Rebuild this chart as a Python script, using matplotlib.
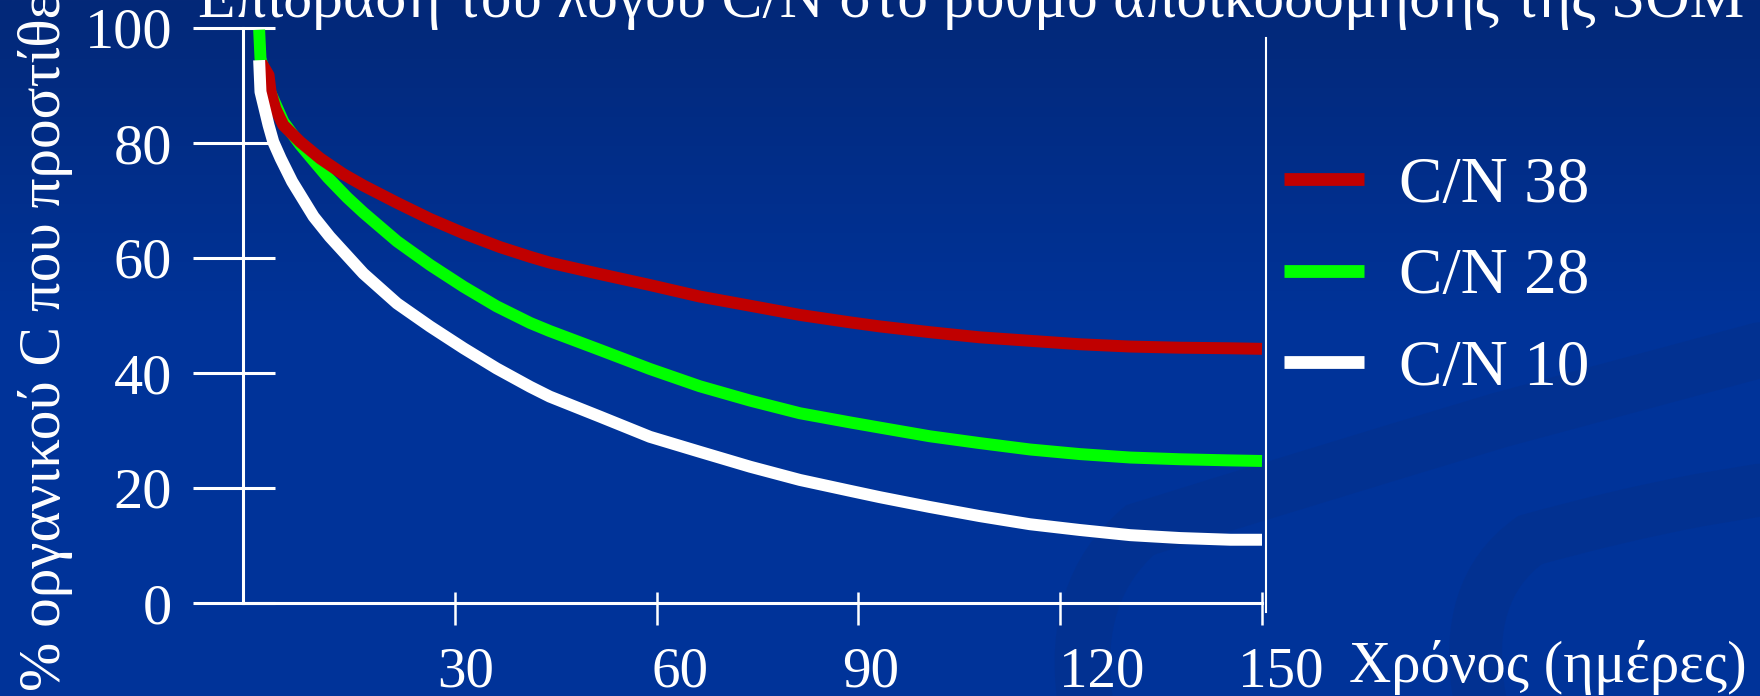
import numpy as np
import matplotlib
matplotlib.use("Agg")
import matplotlib.pyplot as plt
import matplotlib.transforms as mtransforms
from matplotlib.lines import Line2D
from matplotlib.path import Path
from matplotlib.patches import PathPatch

# ---------------- data ----------------
title = "Επίδραση του λόγου C/N στο ρυθμό αποικοδόμησης της SOM"
xlabel = "Χρόνος (ημέρες)"
ylabel = "% οργανικού C που προστίθεται"
series_labels = ["C/N 38", "C/N 28", "C/N 10"]
xticks = [30, 60, 90, 120, 150]
yticks = [0, 20, 40, 60, 80, 100]

days_cn38 = [1.2, 2.3, 2.6, 3.3, 4.5, 7.0, 10.0, 13.4, 16.4, 21.4, 26.3, 31.3, 36.7, 41.2, 44.1,
             51.6, 59.0, 66.4, 73.9, 81.3, 88.8, 93.2, 100.6, 108.1, 115.5, 122.9, 130.4, 137.8, 145.3, 150]
pct_cn38 = [94.0, 91.8, 88.9, 86.0, 83.1, 80.2, 77.3, 74.6, 72.6, 69.6, 66.8, 64.3, 61.9, 60.2, 59.2,
            57.2, 55.3, 53.3, 51.7, 50.1, 48.8, 48.1, 47.1, 46.2, 45.6, 45.0, 44.6, 44.4, 44.3, 44.2]

days_cn28 = [0.9, 1.1, 2.4, 4.5, 7.0, 8.5, 11.1, 14.0, 16.4, 21.4, 26.3, 31.3, 36.2, 41.2, 44.1,
             51.6, 59.0, 66.4, 73.9, 81.3, 88.8, 93.2, 100.6, 108.1, 115.5, 122.9, 130.4, 137.8, 145.3, 150]
pct_cn28 = [99.7, 94.7, 89.2, 83.7, 79.7, 77.6, 74.0, 70.5, 67.9, 62.9, 58.8, 55.0, 51.6, 48.7, 47.3,
            44.0, 40.7, 37.7, 35.2, 33.0, 31.4, 30.5, 29.0, 27.8, 26.7, 25.9, 25.3, 25.0, 24.8, 24.7]

days_cn10 = [0.9, 1.1, 2.3, 3.0, 4.1, 5.8, 9.0, 11.4, 16.4, 21.4, 26.3, 31.3, 36.2, 41.2, 44.1,
             51.6, 59.0, 66.4, 73.9, 81.3, 88.8, 93.2, 100.6, 108.1, 115.5, 122.9, 130.4, 137.8, 145.3, 150]
pct_cn10 = [94.4, 88.9, 83.1, 80.2, 77.3, 73.3, 67.2, 63.7, 57.3, 52.1, 48.1, 44.3, 40.8, 37.6, 35.9,
            32.4, 28.9, 26.3, 23.7, 21.4, 19.5, 18.4, 16.7, 15.1, 13.7, 12.7, 11.8, 11.3, 11.0, 11.0]

series_colors = ["#C00000", "#00FF00", "#FFFFFF"]

# ---------------- figure ----------------
plt.rcParams["font.family"] = ["Liberation Serif", "DejaVu Serif"]
W, H = 1760, 696
fig = plt.figure(figsize=(W / 100, H / 100), dpi=100)
renderer = fig.canvas.get_renderer()


def px(x, y):
    """pixel (from top-left) -> figure fraction"""
    return x / W, 1 - y / H


# background gradient + faint swooshes
bg = fig.add_axes([0, 0, 1, 1])
bg.set_zorder(0)
top = np.array([3, 40, 120]) / 255
mid = np.array([0, 51, 153]) / 255
t = np.clip(np.arange(H) / 320.0, 0, 1)[:, None]
grad = (top * (1 - t) + mid * t)[:, None, :]
bg.imshow(grad, aspect="auto", extent=(0, W, H, 0))
bg.set_xlim(0, W)
bg.set_ylim(H, 0)
bg.axis("off")
swoosh_col = (0.02, 0.19, 0.54)
for verts, wid in [
    ([(1085, 700), (1070, 590), (1140, 530), (1300, 480), (1500, 420), (1760, 350)], 40),
    ([(1480, 700), (1460, 590), (1530, 540), (1620, 515), (1700, 500), (1760, 490)], 38),
]:
    codes = [Path.MOVETO] + [Path.CURVE3] * 4 + [Path.LINETO]
    bg.add_patch(PathPatch(Path(verts, codes), fill=False, lw=wid, edgecolor=swoosh_col,
                           alpha=0.5, capstyle="round"))

# main axes
ax_left, ax_right = 243, 1262
ax_top, ax_bottom = 28, 603
ax = fig.add_axes([ax_left / W, 1 - ax_bottom / H, (ax_right - ax_left) / W, (ax_bottom - ax_top) / H])
ax.set_zorder(1)
ax.patch.set_alpha(0)
ax.set_xlim(-1.5, 150)
ax.set_ylim(0, 100)

lw = 8.6
for d, v, c, lab, z in zip([days_cn38, days_cn28, days_cn10],
                           [pct_cn38, pct_cn28, pct_cn10],
                           series_colors, series_labels, [4, 3, 5]):
    ax.plot(d, v, color=c, lw=lw, solid_capstyle="butt", solid_joinstyle="round",
            clip_on=False, zorder=z, label=lab)

for s in ["top", "right"]:
    ax.spines[s].set_visible(False)
for s in ["left", "bottom"]:
    ax.spines[s].set_color("white")
    ax.spines[s].set_linewidth(2.2)

ax.set_xticks(xticks)
ax.set_xticklabels([str(v) for v in xticks])
ax.set_xticks(xticks, minor=True)
ax.set_yticks(yticks)
ax.set_yticklabels([str(v) for v in yticks])
ax.set_yticks(yticks, minor=True)
ax.xaxis.remove_overlapping_locs = False
ax.yaxis.remove_overlapping_locs = False
ax.tick_params(axis="x", which="major", direction="out", length=15.8, width=1.8, color="white",
               pad=15.7, labelsize=41, labelcolor="white")
ax.tick_params(axis="x", which="minor", direction="in", length=7.9, width=1.8, color="white")
ax.tick_params(axis="y", which="major", direction="out", length=36, width=2.2, color="white",
               pad=15, labelsize=42, labelcolor="white")
ax.tick_params(axis="y", which="minor", direction="in", length=23, width=2.2, color="white")

# x tick labels sit a little right of their ticks in the reference
shifts_px = [11, 23, 12, 41, 19]
for lbl, sh in zip(ax.get_xticklabels(), shifts_px):
    lbl.set_transform(lbl.get_transform() + mtransforms.ScaledTranslation(sh / 100, 0, fig.dpi_scale_trans))


def fit_width(txt, target):
    fs = txt.get_fontsize()
    for _ in range(4):
        w = txt.get_window_extent(renderer).width
        fs *= target / w
        txt.set_fontsize(fs)


axw = ax_right - ax_left
axh = ax_bottom - ax_top

# title (runs off the top edge, as in the reference)
ttl = ax.set_title(title, fontsize=50, color="white", y=(ax_bottom - 17) / axh, pad=0)
ttl.set_x((198 - ax_left) / axw)
ttl.set_ha("left")
ttl.set_va("baseline")
fit_width(ttl, 1547)

# x label
xl = ax.set_xlabel(xlabel, fontsize=48, color="white")
ax.xaxis.set_label_coords((1349 - ax_left) / axw, (ax_bottom - 682) / axh)
xl.set_ha("left")
xl.set_va("baseline")
fit_width(xl, 398)

# y label (runs off the top edge, as in the reference)
probe = fig.text(0, 0, "% οργανικού ", fontsize=45)
fit_width(probe, 325)
yfs = probe.get_fontsize()
probe.remove()
yl = ax.set_ylabel(ylabel, fontsize=yfs, color="white", rotation=90)
ax.yaxis.set_label_coords((60 - ax_left) / axw, (ax_bottom - 691) / axh)
yl.set_ha("left")
yl.set_va("baseline")
yl.set_rotation_mode("anchor")

# right boundary line
fig.add_artist(Line2D([1266 / W, 1266 / W], [1 - 38 / H, 1 - 612 / H], color="white", lw=1.5))

# legend
handles = [Line2D([], [], color=c, lw=9.2, solid_capstyle="butt") for c in series_colors]
fs_leg = 47
leg = ax.legend(handles, series_labels, loc="upper left",
                bbox_to_anchor=px(1284, 156), bbox_transform=fig.transFigure,
                frameon=False, fontsize=fs_leg, handlelength=80 / (fs_leg * 100 / 72),
                handletextpad=0.53, labelspacing=0.49, borderpad=0, borderaxespad=0)
for tx in leg.get_texts():
    tx.set_color("white")

fig.savefig("out.png", dpi=100, facecolor=fig.get_facecolor())
